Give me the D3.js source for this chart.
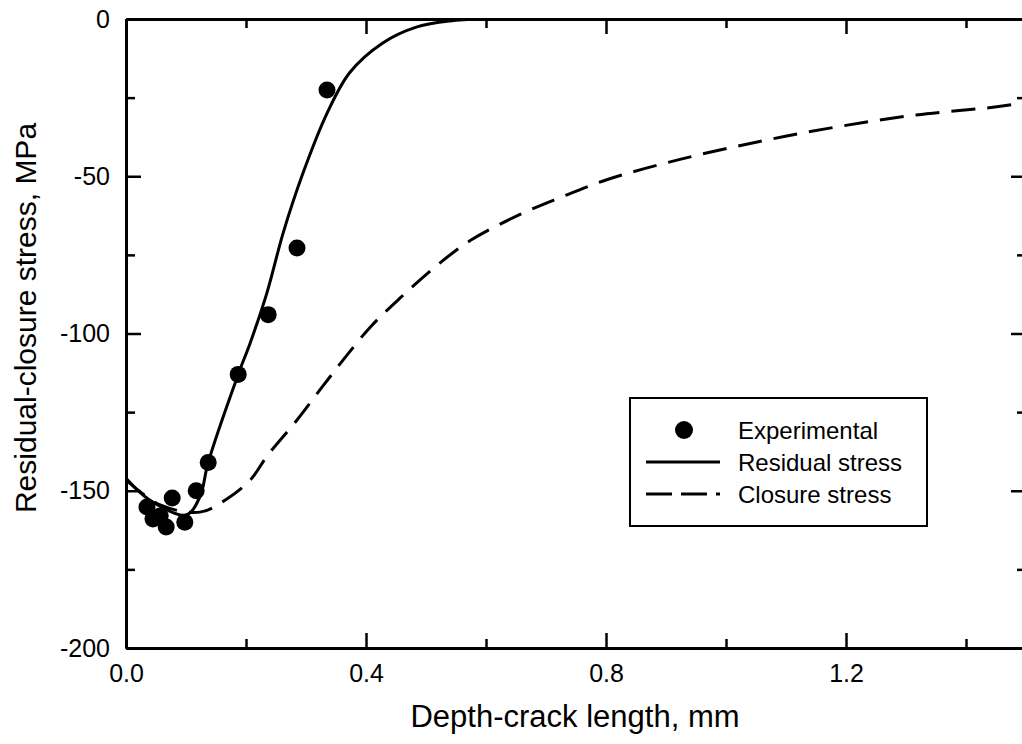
<html>
<head>
<meta charset="utf-8">
<script src="https://d3js.org/d3.v7.min.js"></script>
<style>
  body { margin: 0; background: #fff; }
  text { font-family: Arial, "Liberation Sans", sans-serif; fill: #000; }
</style>
</head>
<body>
<script>
// experimental points (depth mm, stress MPa)
var expX = [0.035, 0.045, 0.057, 0.067, 0.077, 0.098, 0.117, 0.137, 0.187, 0.237, 0.285, 0.335];
var expY = [-155.2, -159, -158, -161.5, -152.3, -160, -150, -141, -113, -94, -72.8, -22.6];

// residual stress curve
var resX = [0, 0.04, 0.1, 0.123, 0.137, 0.187, 0.207, 0.235, 0.262, 0.295, 0.335, 0.373, 0.428, 0.485, 0.54, 0.6, 0.8, 1.2, 1.5];
var resY = [-146, -153, -157.7, -152, -141, -113, -103, -87, -68, -49, -30, -17, -7.6, -2.5, -0.6, 0, 0, 0, 0];

// closure stress curve
var cloX = [0, 0.057, 0.123, 0.165, 0.207, 0.235, 0.285, 0.327, 0.362, 0.407, 0.457, 0.523, 0.575, 0.655, 0.722, 0.8, 0.92, 1.052, 1.185, 1.317, 1.448, 1.5];
var cloY = [-146.6, -154.5, -156.8, -153, -146.6, -139, -127.5, -117, -108.4, -98, -88.7, -77.6, -70.3, -62.3, -56.9, -51.2, -44.8, -39.1, -34.3, -30.5, -28, -26.5];

var xTicks = [0, 0.4, 0.8, 1.2];
var xMinor = [0.2, 0.6, 1.0, 1.4];
var yTicks = [0, -50, -100, -150, -200];
var yMinor = [-25, -75, -125, -175];

var legendLabels = ['Experimental', 'Residual stress', 'Closure stress'];

var width = 1022, height = 744;
var svg = d3.select('body').append('svg').attr('width', width).attr('height', height);

var x = d3.scaleLinear().domain([0, 1.5]).range([126, 1026]);
var y = d3.scaleLinear().domain([-200, 0]).range([648, 19]);

svg.append('clipPath').attr('id', 'plot')
  .append('rect').attr('x', x(0)).attr('y', y(0)).attr('width', x(1.5) - x(0)).attr('height', y(-200) - y(0));

var fmtX = d3.format('.1f');

// axes (inward ticks, on all four sides)
svg.append('g').attr('transform', 'translate(0,' + y(-200) + ')')
  .call(d3.axisBottom(x).tickValues(xTicks).tickSizeInner(-15).tickSizeOuter(0).tickPadding(16).tickFormat(fmtX))
  .call(g => g.selectAll('text').attr('font-size', 25));
svg.append('g').attr('transform', 'translate(0,' + y(-200) + ')')
  .call(d3.axisBottom(x).tickValues(xMinor).tickSizeInner(-9).tickSizeOuter(0).tickFormat(''));
svg.append('g').attr('transform', 'translate(0,' + y(0) + ')')
  .call(d3.axisTop(x).tickValues(xTicks).tickSizeInner(-15).tickSizeOuter(0).tickFormat(''));
svg.append('g').attr('transform', 'translate(0,' + y(0) + ')')
  .call(d3.axisTop(x).tickValues(xMinor).tickSizeInner(-9).tickSizeOuter(0).tickFormat(''));

svg.append('g').attr('transform', 'translate(' + x(0) + ',0)')
  .call(d3.axisLeft(y).tickValues(yTicks).tickSizeInner(-15).tickSizeOuter(0).tickPadding(16).tickFormat(d => String(d)))
  .call(g => g.selectAll('text').attr('font-size', 25));
svg.append('g').attr('transform', 'translate(' + x(0) + ',0)')
  .call(d3.axisLeft(y).tickValues(yMinor).tickSizeInner(-9).tickSizeOuter(0).tickFormat(''));
svg.append('g').attr('transform', 'translate(' + x(1.5) + ',0)')
  .call(d3.axisRight(y).tickValues(yTicks).tickSizeInner(-15).tickSizeOuter(0).tickFormat(''));
svg.append('g').attr('transform', 'translate(' + x(1.5) + ',0)')
  .call(d3.axisRight(y).tickValues(yMinor).tickSizeInner(-9).tickSizeOuter(0).tickFormat(''));

svg.selectAll('.domain').attr('stroke', '#000').attr('stroke-width', 3);
svg.selectAll('.tick line').attr('stroke', '#000').attr('stroke-width', 2.5);

// axis titles
svg.append('text').attr('x', 575).attr('y', 727).attr('text-anchor', 'middle')
  .attr('font-size', 31).text('Depth-crack length, mm');
svg.append('text').attr('transform', 'translate(36,' + 318 + ') rotate(-90)').attr('text-anchor', 'middle')
  .attr('font-size', 30).text('Residual-closure stress, MPa');

// curves
var line = d3.line().x(d => x(d[0])).y(d => y(d[1])).curve(d3.curveCatmullRom.alpha(0.5));
var plot = svg.append('g').attr('clip-path', 'url(#plot)');

plot.append('path').attr('d', line(d3.zip(cloX, cloY)))
  .attr('fill', 'none').attr('stroke', '#000').attr('stroke-width', 3).attr('stroke-dasharray', '24,12');
plot.append('path').attr('d', line(d3.zip(resX, resY)))
  .attr('fill', 'none').attr('stroke', '#000').attr('stroke-width', 3);

plot.selectAll('circle').data(d3.zip(expX, expY)).enter().append('circle')
  .attr('cx', d => x(d[0])).attr('cy', d => y(d[1])).attr('r', 8.5).attr('fill', '#000');

// legend
var lg = svg.append('g').attr('transform', 'translate(630,398)');
lg.append('rect').attr('width', 297).attr('height', 128).attr('fill', '#fff').attr('stroke', '#000').attr('stroke-width', 2);
lg.append('circle').attr('cx', 54).attr('cy', 32).attr('r', 9).attr('fill', '#000');
lg.append('line').attr('x1', 16).attr('x2', 90).attr('y1', 64).attr('y2', 64).attr('stroke', '#000').attr('stroke-width', 3);
lg.append('line').attr('x1', 16).attr('x2', 90).attr('y1', 96).attr('y2', 96).attr('stroke', '#000').attr('stroke-width', 3).attr('stroke-dasharray', '26,9');
lg.selectAll('text.lab').data(legendLabels).enter().append('text').attr('class', 'lab')
  .attr('x', 108).attr('y', (d, i) => 41 + i * 32).attr('font-size', 24).text(d => d);
</script>
</body>
</html>
